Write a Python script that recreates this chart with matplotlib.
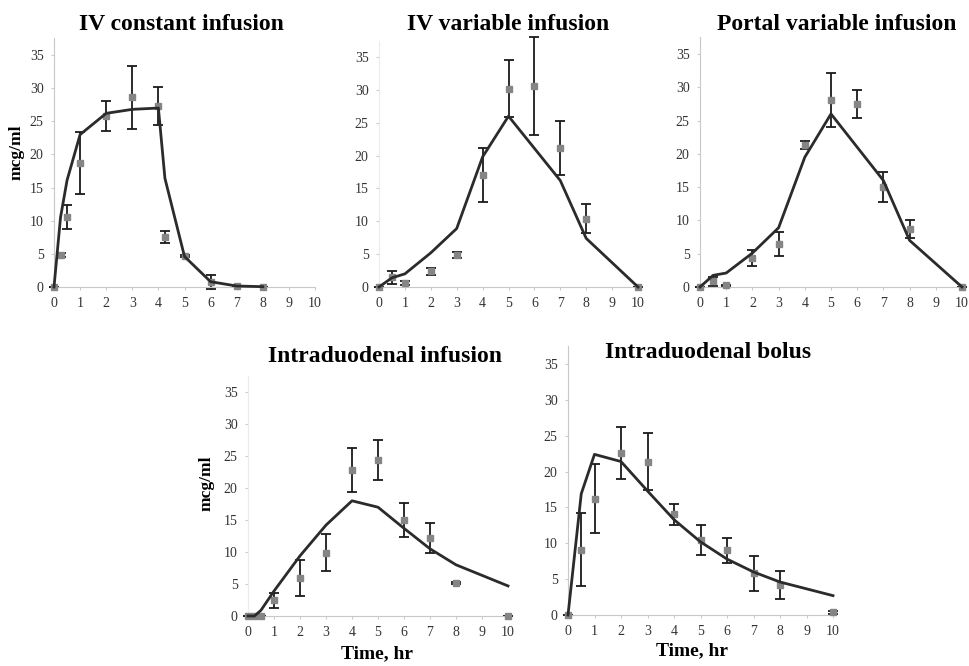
import numpy as np
import matplotlib
matplotlib.use("Agg")
import matplotlib.pyplot as plt

plt.rcParams['font.family'] = ['Liberation Serif', 'DejaVu Serif']

# observed (mean, sd) and model curve for each panel
t1 = [0, 0.25, 0.5, 1, 2, 3, 4, 4.25, 5, 6, 7, 8]
obs1 = [0, 4.9, 10.6, 18.7, 25.8, 28.6, 27.3, 7.5, 4.7, 0.75, 0.1, 0.05]
err1 = [0, 0.3, 1.8, 4.7, 2.3, 4.8, 2.8, 0.9, 0.2, 1.1, 0.1, 0]
fit1 = [0, 10.5, 16.1, 23.0, 26.2, 26.8, 27.0, 16.4, 4.6, 0.8, 0.15, 0.05]

t2 = [0, 0.5, 1, 2, 3, 4, 5, 6, 7, 8, 10]
obs2 = [0, 1.5, 0.65, 2.4, 4.9, 17.0, 30.2, 30.6, 21.1, 10.4, 0]
err2 = [0, 1.0, 0.3, 0.5, 0.5, 4.1, 4.3, 7.4, 4.1, 2.2, 0]
fit2 = [0, 1.4, 2.0, 5.2, 8.9, 19.8, 26.0, 21.1, 16.2, 7.4, 0]

t3 = [0, 0.5, 1, 2, 3, 4, 5, 6, 7, 8, 10]
obs3 = [0, 0.85, 0.25, 4.3, 6.4, 21.3, 28.1, 27.5, 15.0, 8.7, 0]
err3 = [0, 0.7, 0.1, 1.2, 1.8, 0.6, 4.1, 2.1, 2.2, 1.4, 0]
fit3 = [0, 1.75, 2.1, 5.1, 8.9, 19.5, 26.0, 21.0, 16.0, 7.0, 0]

t4 = [0, 0.25, 0.5, 1, 2, 3, 4, 5, 6, 7, 8, 10]
obs4 = [0, 0, 0, 2.45, 5.9, 9.9, 22.8, 24.4, 15.0, 12.2, 5.15, 0]
err4 = [0, 0, 0, 1.2, 2.8, 2.9, 3.4, 3.1, 2.6, 2.3, 0.2, 0]
fit4 = [0, 0, 0.9, 3.9, 9.4, 14.2, 18.0, 17.0, 13.7, 10.5, 8.0, 4.7]

t5 = [0, 0.5, 1, 2, 3, 4, 5, 6, 7, 8, 10]
obs5 = [0, 9.1, 16.2, 22.6, 21.4, 14.05, 10.5, 9.0, 5.8, 4.2, 0.35]
err5 = [0, 5.1, 4.8, 3.6, 4.0, 1.45, 2.1, 1.7, 2.4, 1.9, 0.2]
fit5 = [0, 16.9, 22.4, 21.4, 17.3, 13.3, 10.2, 7.8, 6.0, 4.6, 2.7]

titles = ["IV constant infusion", "IV variable infusion", "Portal variable infusion",
          "Intraduodenal infusion", "Intraduodenal bolus"]
xticks = [0, 1, 2, 3, 4, 5, 6, 7, 8, 9, 10]
yticks = [0, 5, 10, 15, 20, 25, 30, 35]

W, H = 969, 666
fig = plt.figure(figsize=(W / 100, H / 100), dpi=100)


def px_axes(x0, x10, y0, y35):
    # axes box from pixel positions of x=0, x=10, y=0, y=35
    per = (y0 - y35) / 35.0
    top = y0 - per * 37.5
    return fig.add_axes([x0 / W, 1 - y0 / H, (x10 - x0) / W, (y0 - top) / H])


boxes = [(54, 315, 287, 55), (379, 638, 287, 57), (700, 962, 287, 54),
         (248, 508, 616, 392), (568, 833, 615, 364)]
spine_col = ['#c8c8c8', '#ececec', '#c8c8c8', '#ececec', '#c8c8c8']
data = [(t1, obs1, err1, fit1), (t2, obs2, err2, fit2), (t3, obs3, err3, fit3),
        (t4, obs4, err4, fit4), (t5, obs5, err5, fit5)]

axes = []
for i, (b, (t, o, e, f)) in enumerate(zip(boxes, data)):
    ax = px_axes(*b)
    ax.errorbar(t, o, yerr=e, fmt='none', ecolor='#1a1a1a', elinewidth=1.3,
                capsize=3.5, capthick=1.3, zorder=2, clip_on=False)
    ax.plot(t, o, 's', color='#858585', markersize=5, zorder=3, clip_on=False)
    ax.plot(t, f, '-', color='#2b2b2b', linewidth=2, zorder=4, clip_on=False)
    ax.set_xlim(0, 10)
    ax.set_ylim(0, 37.5)
    ax.set_xticks(xticks)
    ax.set_yticks(yticks)
    ax.tick_params(labelsize=10, length=2.5, color='#cccccc', pad=5, labelcolor='#333333')
    for s in ['top', 'right']:
        ax.spines[s].set_visible(False)
    ax.spines['bottom'].set_color('#c8c8c8')
    ax.spines['left'].set_color(spine_col[i])
    ax.patch.set_alpha(0)
    axes.append(ax)

title_pos = [(181, 25), (508, 25), (837, 25), (385, 357), (708, 353)]
for (x, y), s in zip(title_pos, titles):
    fig.text(x / W, 1 - y / H, s, ha='center', va='center', fontsize=17, fontweight='bold')

fig.text(17 / W, 1 - 152 / H, "mcg/ml", rotation=90, ha='center', va='center',
         fontsize=12.5, fontweight='bold')
fig.text(207 / W, 1 - 483 / H, "mcg/ml", rotation=90, ha='center', va='center',
         fontsize=12.5, fontweight='bold')
fig.text(377 / W, 1 - 654 / H, "Time, hr", ha='center', va='center',
         fontsize=14, fontweight='bold')
fig.text(692 / W, 1 - 651 / H, "Time, hr", ha='center', va='center',
         fontsize=14, fontweight='bold')

fig.savefig("out.png", dpi=100)
